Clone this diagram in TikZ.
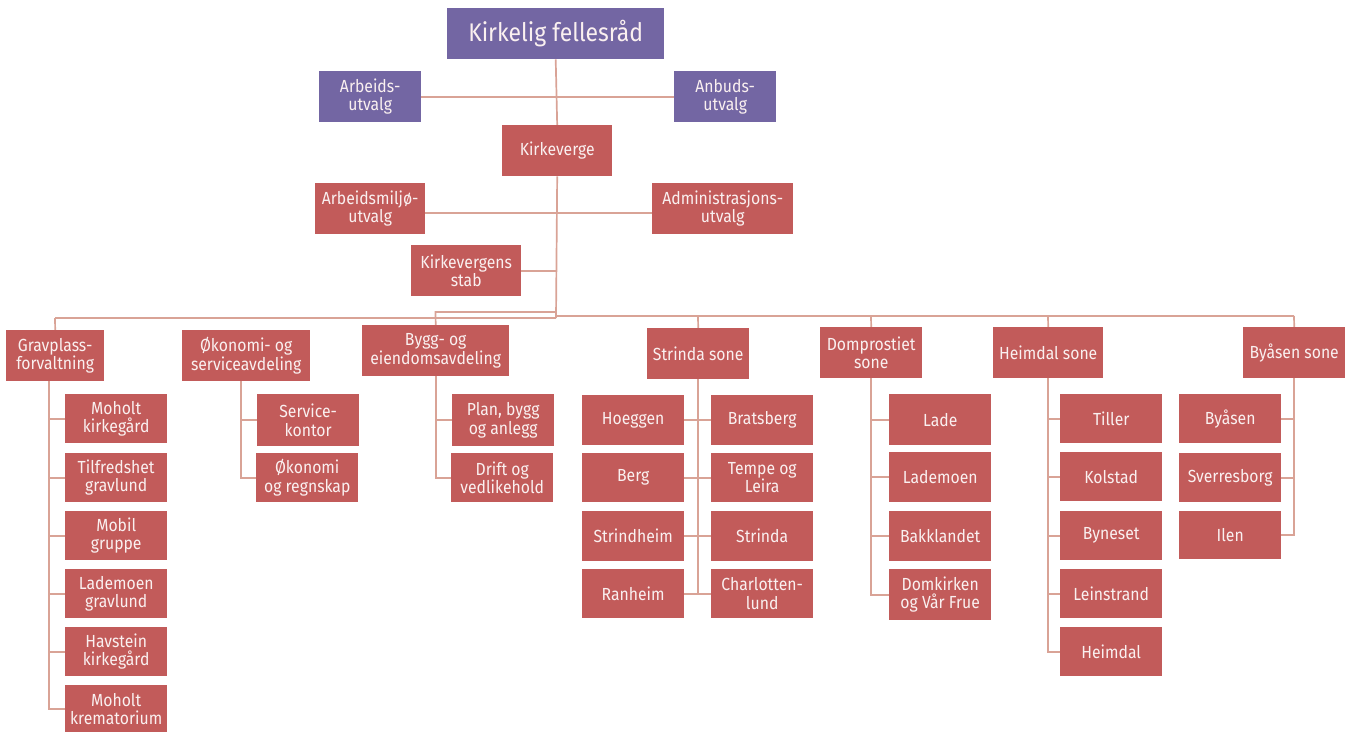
\documentclass[tikz,border=0pt]{standalone}
\usepackage{fontspec}
\setmainfont{Fira Sans}[FakeStretch=0.9]
\usetikzlibrary{backgrounds}
\definecolor{purp}{RGB}{115,102,163}
\definecolor{redb}{RGB}{194,91,90}
\definecolor{conncol}{RGB}{217,163,150}
\definecolor{txt}{RGB}{250,240,240}
\tikzset{
  pbox/.style={fill=purp, text=txt, inner sep=0pt, align=center, font=\fontsize{17.5}{18.5}\selectfont},
  rbox/.style={fill=redb, text=txt, inner sep=0pt, align=center, font=\fontsize{17.5}{18.5}\selectfont},
  titlebox/.style={pbox, font=\fontsize{25.5}{28}\selectfont},
  conn/.style={draw=conncol, line width=1.7pt}
}
\newcommand\bx[7]{\node[#1, anchor=north west, minimum width={(#5-#3)*1pt}, minimum height={(#6-#4)*1pt}] (#2) at (#3,#4) {#7};}
\begin{document}
\begin{tikzpicture}[x=1pt,y=-1pt]
\useasboundingbox (0,0) rectangle (1351,731);
\coordinate (busC) at (556,318);
\coordinate (busCR) at (556,316);
\coordinate (busGr) at (55,318);
\coordinate (byggTop) at (435.5,312);
\coordinate (byggJ) at (556,312);
\coordinate (busSs) at (698,316);
\coordinate (busDs) at (871,316);
\coordinate (busHs) at (1048,316);
\coordinate (busBys) at (1294,316);
\coordinate (gvTop) at (49,381);
\coordinate (ovTop) at (241,381);

% ---------- boxes ----------
\bx{titlebox}{kf}{447}{8}{664}{59}{Kirkelig fellesråd}
\bx{pbox}{au}{319}{71}{421}{122}{Arbeids-\\utvalg}
\bx{pbox}{anb}{674}{71}{776}{122}{Anbuds-\\utvalg}
\bx{rbox}{kv}{502}{125}{612}{176}{Kirkeverge}
\bx{rbox}{amu}{315}{183}{425}{234}{Arbeidsmiljø-\\utvalg}
\bx{rbox}{adm}{652}{183}{793}{234}{Administrasjons-\\utvalg}
\bx{rbox}{ks}{411}{245}{521}{296}{Kirkevergens\\stab}
\bx{rbox}{grav}{6}{330}{104}{381}{Gravplass-\\forvaltning}
\bx{rbox}{oko}{182}{330}{310}{381}{Økonomi- og\\serviceavdeling}
\bx{rbox}{bygg}{362}{325}{509}{376}{Bygg- og\\eiendomsavdeling}
\bx{rbox}{ss}{647}{328}{749}{379}{Strinda sone}
\bx{rbox}{ds}{820}{327}{922}{378}{Domprostiet\\sone}
\bx{rbox}{hs}{993}{327}{1103}{378}{Heimdal sone}
\bx{rbox}{bys}{1243}{327}{1345}{378}{Byåsen sone}
% Gravplass children
\bx{rbox}{g1}{65}{394}{167}{443}{Moholt\\kirkegård}
\bx{rbox}{g2}{65}{453}{167}{502}{Tilfredshet\\gravlund}
\bx{rbox}{g3}{65}{511}{167}{560}{Mobil\\gruppe}
\bx{rbox}{g4}{65}{569}{167}{618}{Lademoen\\gravlund}
\bx{rbox}{g5}{65}{627}{167}{676}{Havstein\\kirkegård}
\bx{rbox}{g6}{65}{685}{167}{733}{Moholt\\krematorium}
% Okonomi children
\bx{rbox}{o1}{257}{394}{359}{446}{Service-\\kontor}
\bx{rbox}{o2}{256}{453}{358}{502}{Økonomi\\og regnskap}
% Bygg children
\bx{rbox}{b1}{452}{394}{554}{446}{Plan, bygg\\og anlegg}
\bx{rbox}{b2}{451}{453}{553}{502}{Drift og\\vedlikehold}
% Strinda children
\bx{rbox}{s1}{582}{395}{684}{445}{Hoeggen}
\bx{rbox}{s2}{711}{395}{813}{445}{Bratsberg}
\bx{rbox}{s3}{582}{453}{684}{502}{Berg}
\bx{rbox}{s4}{711}{453}{813}{502}{Tempe og\\Leira}
\bx{rbox}{s5}{582}{511}{684}{561}{Strindheim}
\bx{rbox}{s6}{711}{511}{813}{561}{Strinda}
\bx{rbox}{s7}{582}{569}{684}{618}{Ranheim}
\bx{rbox}{s8}{711}{569}{813}{618}{Charlotten-\\lund}
% Domprostiet children
\bx{rbox}{d1}{889}{394}{991}{445}{Lade}
\bx{rbox}{d2}{889}{452}{991}{502}{Lademoen}
\bx{rbox}{d3}{889}{511}{991}{561}{Bakklandet}
\bx{rbox}{d4}{889}{569}{991}{620}{Domkirken\\og Vår Frue}
% Heimdal children
\bx{rbox}{h1}{1060}{394}{1162}{443}{Tiller}
\bx{rbox}{h2}{1060}{452}{1162}{501}{Kolstad}
\bx{rbox}{h3}{1060}{511}{1162}{560}{Byneset}
\bx{rbox}{h4}{1060}{569}{1162}{618}{Leinstrand}
\bx{rbox}{h5}{1060}{627}{1162}{676}{Heimdal}
% Byasen children
\bx{rbox}{y1}{1179}{394}{1281}{443}{Byåsen}
\bx{rbox}{y2}{1179}{453}{1281}{502}{Sverresborg}
\bx{rbox}{y3}{1179}{511}{1281}{559}{Ilen}

% ---------- connectors (behind boxes) ----------
\begin{scope}[on background layer]
\draw[conn] (kf.south) -- (kv.north);
\draw[conn] (kv.south) -- (busC);
\draw[conn] (au.east) -- (anb.west);
\draw[conn] ([yshift=-4pt]amu.east) -- ([yshift=-4pt]adm.west);
\draw[conn] (ks.east) -- (ks.east -| kv.south);
% buses
\draw[conn] (busGr) -- (busC);
\draw[conn] (busGr) -- (grav.north);
\draw[conn] (byggJ) -- (byggTop) -- (bygg.north);
\draw[conn] (busCR) -- (busBys);
\draw[conn] (busSs) -- (ss.north);
\draw[conn] (busDs) -- (ds.north);
\draw[conn] (busHs) -- (hs.north);
\draw[conn] (busBys) -- (bys.north);
% Gravplass
\foreach \c in {g1,g2,g3,g4,g5,g6} \draw[conn] (gvTop) |- (\c.west);
% Okonomi
\foreach \c in {o1,o2} \draw[conn] (ovTop) |- (\c.west);
% Bygg
\foreach \c in {b1,b2} \draw[conn] (bygg.south) |- (\c.west);
% Strinda
\draw[conn] (ss.south) -- (ss.south |- s7.east);
\draw[conn] (s1.east) -- (s2.west);
\draw[conn] (s3.east) -- (s4.west);
\draw[conn] (s5.east) -- (s6.west);
\draw[conn] (s7.east) -- (s8.west);
% Domprostiet
\foreach \c in {d1,d2,d3,d4} \draw[conn] (ds.south) |- (\c.west);
% Heimdal
\foreach \c in {h1,h2,h3,h4,h5} \draw[conn] (hs.south) |- (\c.west);
% Byasen
\foreach \c in {y1,y2,y3} \draw[conn] (bys.south) |- (\c.east);
\end{scope}
\end{tikzpicture}
\end{document}
